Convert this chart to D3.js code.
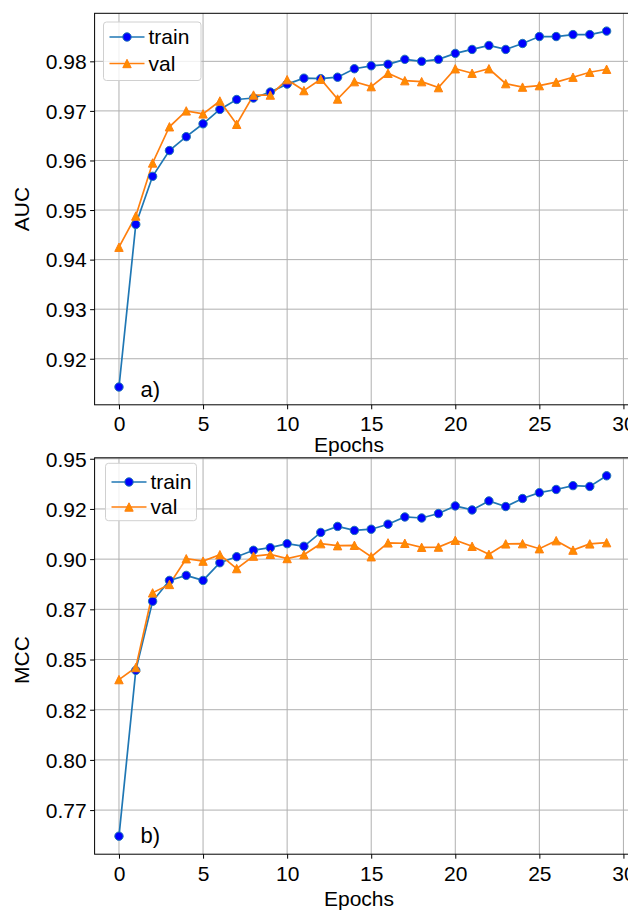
<!DOCTYPE html>
<html><head><meta charset="utf-8">
<script src="https://cdn.jsdelivr.net/npm/d3@7"></script>
<style>
body{margin:0;background:#fff}
svg{display:block}
text{font-family:"Liberation Sans",Arial,Helvetica,sans-serif;fill:#000}
</style>
</head><body>
<svg id="c" width="628" height="911"></svg>
<script>
const epochs = [0,1,2,3,4,5,6,7,8,9,10,11,12,13,14,15,16,17,18,19,20,21,22,23,24,25,26,27,28,29];
const aucTrain = [0.9143,0.9471,0.9568,0.9620,0.9648,0.9674,0.9703,0.9723,0.9726,0.9738,0.9754,0.9766,0.9765,0.9768,0.9785,0.9791,0.9794,0.9804,0.9800,0.9804,0.9816,0.9824,0.9832,0.9824,0.9836,0.9850,0.9850,0.9854,0.9854,0.9861];
const aucVal = [0.9425,0.9488,0.9595,0.9668,0.9700,0.9694,0.9720,0.9673,0.9732,0.9732,0.9763,0.9741,0.9764,0.9724,0.9759,0.9749,0.9776,0.9761,0.9759,0.9747,0.9785,0.9776,0.9785,0.9755,0.9748,0.9751,0.9758,0.9768,0.9778,0.9784];
const mccTrain = [0.7620,0.8446,0.8790,0.8894,0.8919,0.8894,0.8982,0.9012,0.9044,0.9057,0.9077,0.9064,0.9133,0.9163,0.9143,0.9149,0.9174,0.9210,0.9205,0.9227,0.9265,0.9245,0.9290,0.9262,0.9302,0.9331,0.9347,0.9366,0.9362,0.9415];
const mccVal = [0.8400,0.8460,0.8832,0.8874,0.9002,0.8990,0.9022,0.8953,0.9015,0.9024,0.9003,0.9022,0.9077,0.9067,0.9069,0.9012,0.9081,0.9079,0.9059,0.9060,0.9094,0.9064,0.9024,0.9076,0.9077,0.9052,0.9092,0.9045,0.9076,0.9082];
const xTicks = [0,5,10,15,20,25,30];
const aucTicks = [0.92,0.93,0.94,0.95,0.96,0.97,0.98];
const aucTickLabels = ["0.92","0.93","0.94","0.95","0.96","0.97","0.98"];
const mccTicks = [0.775,0.8,0.825,0.85,0.875,0.9,0.925,0.95];
const mccTickLabels = ["0.77","0.80","0.82","0.85","0.87","0.90","0.92","0.95"];
const seriesNames = ["train","val"];

const svg = d3.select("#c");
const FS = 21;
const MR = 4.2;
const x = d3.scaleLinear().domain([-1.45, 30.45]).range([94.6, 631]);

const panels = [
  {train: aucTrain, val: aucVal, top: 13.3, bottom: 404.8, ylabel: "AUC", ylabelY: 209,
   ticks: aucTicks, labels: aucTickLabels, tag: "a)", tagY: 397,
   xTickY: 431, xlabelX: 349, xlabelY: 452,
   leg: {x0: 103.5, y0: 22, x1: 201, y1: 80.5, r1: 37, r2: 63.5}},
  {train: mccTrain, val: mccVal, top: 457.8, bottom: 854.2, ylabel: "MCC", ylabelY: 660,
   ticks: mccTicks, labels: mccTickLabels, tag: "b)", tagY: 842.5,
   xTickY: 881.5, xlabelX: 359, xlabelY: 906,
   leg: {x0: 105.5, y0: 463.3, x1: 196.5, y1: 520.7, r1: 482, r2: 507}}
];

const triPath = r => `M0,${-r}L${-r},${r}L${r},${r}Z`;

panels.forEach(p => {
  const all = p.train.concat(p.val);
  const mn = d3.min(all), mx = d3.max(all), rg = mx - mn;
  const y = d3.scaleLinear().domain([mn - 0.05*rg, mx + 0.05*rg]).range([p.bottom, p.top]);
  const g = svg.append("g");

  // grid
  g.append("g").selectAll("line").data(xTicks).join("line")
    .attr("x1", d => x(d)).attr("x2", d => x(d)).attr("y1", p.top).attr("y2", p.bottom)
    .attr("stroke", "#b0b0b0").attr("stroke-width", 1);
  g.append("g").selectAll("line").data(p.ticks).join("line")
    .attr("x1", x.range()[0]).attr("x2", x.range()[1]).attr("y1", d => y(d)).attr("y2", d => y(d))
    .attr("stroke", "#b0b0b0").attr("stroke-width", 1);

  // axes
  const ya = d3.axisLeft(y).tickValues(p.ticks).tickFormat((d,i) => p.labels[i]).tickSize(4.5).tickPadding(3.5);
  const yg = g.append("g").attr("transform", `translate(${x.range()[0]},0)`).call(ya);
  yg.select(".domain").remove();
  yg.selectAll("line").attr("stroke", "#000").attr("stroke-width", 1);
  yg.selectAll("text").attr("font-size", FS).attr("font-family", null).attr("dy", "0.35em");

  const xa = d3.axisBottom(x).tickValues(xTicks).tickFormat(d3.format("d")).tickSize(4.5);
  const xg = g.append("g").attr("transform", `translate(0,${p.bottom})`).call(xa);
  xg.select(".domain").remove();
  xg.selectAll("line").attr("stroke", "#000").attr("stroke-width", 1);
  xg.selectAll("text").attr("font-size", FS).attr("font-family", null)
    .attr("y", p.xTickY - p.bottom).attr("dy", null);
  svg.selectAll(".tick text").attr("fill", "#000");

  // spines
  g.append("rect").attr("x", x.range()[0]).attr("y", p.top)
    .attr("width", x.range()[1] - x.range()[0]).attr("height", p.bottom - p.top)
    .attr("fill", "none").attr("stroke", "#000").attr("stroke-width", 1);

  // lines
  const line = arr => d3.line().x((d,i) => x(epochs[i])).y(d => y(d))(arr);
  g.append("path").attr("d", line(p.train)).attr("fill", "none").attr("stroke", "#1f77b4").attr("stroke-width", 1.7);
  g.append("path").attr("d", line(p.val)).attr("fill", "none").attr("stroke", "#ff7f0e").attr("stroke-width", 1.7);
  g.append("g").selectAll("circle").data(p.train).join("circle")
    .attr("cx", (d,i) => x(epochs[i])).attr("cy", d => y(d)).attr("r", MR)
    .attr("fill", "#0000ff").attr("stroke", "#1f77b4").attr("stroke-width", 1);
  g.append("g").selectAll("path").data(p.val).join("path")
    .attr("transform", (d,i) => `translate(${x(epochs[i])},${y(d)})`).attr("d", triPath(MR))
    .attr("fill", "#ff8c00").attr("stroke", "#ff7f0e").attr("stroke-width", 1);

  // labels
  g.append("text").attr("transform", `translate(22,${p.ylabelY}) rotate(-90)`)
    .attr("text-anchor", "middle").attr("dy", "0.35em").attr("font-size", FS).text(p.ylabel);
  g.append("text").attr("x", p.xlabelX).attr("y", p.xlabelY).attr("text-anchor", "middle")
    .attr("font-size", FS).text("Epochs");
  g.append("text").attr("x", 140.5).attr("y", p.tagY).attr("font-size", FS + 1).text(p.tag);

  // legend
  const L = p.leg;
  g.append("rect").attr("x", L.x0).attr("y", L.y0).attr("width", L.x1 - L.x0).attr("height", L.y1 - L.y0)
    .attr("rx", 3).attr("fill", "#fff").attr("fill-opacity", 0.8).attr("stroke", "#d0d0d0").attr("stroke-width", 1);
  const hx0 = L.x0 + 6, hx1 = L.x0 + 41, hm = L.x0 + 23.5;
  [[L.r1, "#1f77b4", "c"], [L.r2, "#ff7f0e", "t"]].forEach((r, i) => {
    g.append("line").attr("x1", hx0).attr("x2", hx1).attr("y1", r[0]).attr("y2", r[0])
      .attr("stroke", r[1]).attr("stroke-width", 1.7);
    if (r[2] === "c") {
      g.append("circle").attr("cx", hm).attr("cy", r[0]).attr("r", MR)
        .attr("fill", "#0000ff").attr("stroke", "#1f77b4");
    } else {
      g.append("path").attr("transform", `translate(${hm},${r[0]})`).attr("d", triPath(MR))
        .attr("fill", "#ff8c00").attr("stroke", "#ff7f0e");
    }
    g.append("text").attr("x", L.x0 + 45).attr("y", r[0]).attr("dy", "0.35em")
      .attr("font-size", FS).text(seriesNames[i]);
  });
});
</script>
</body></html>
